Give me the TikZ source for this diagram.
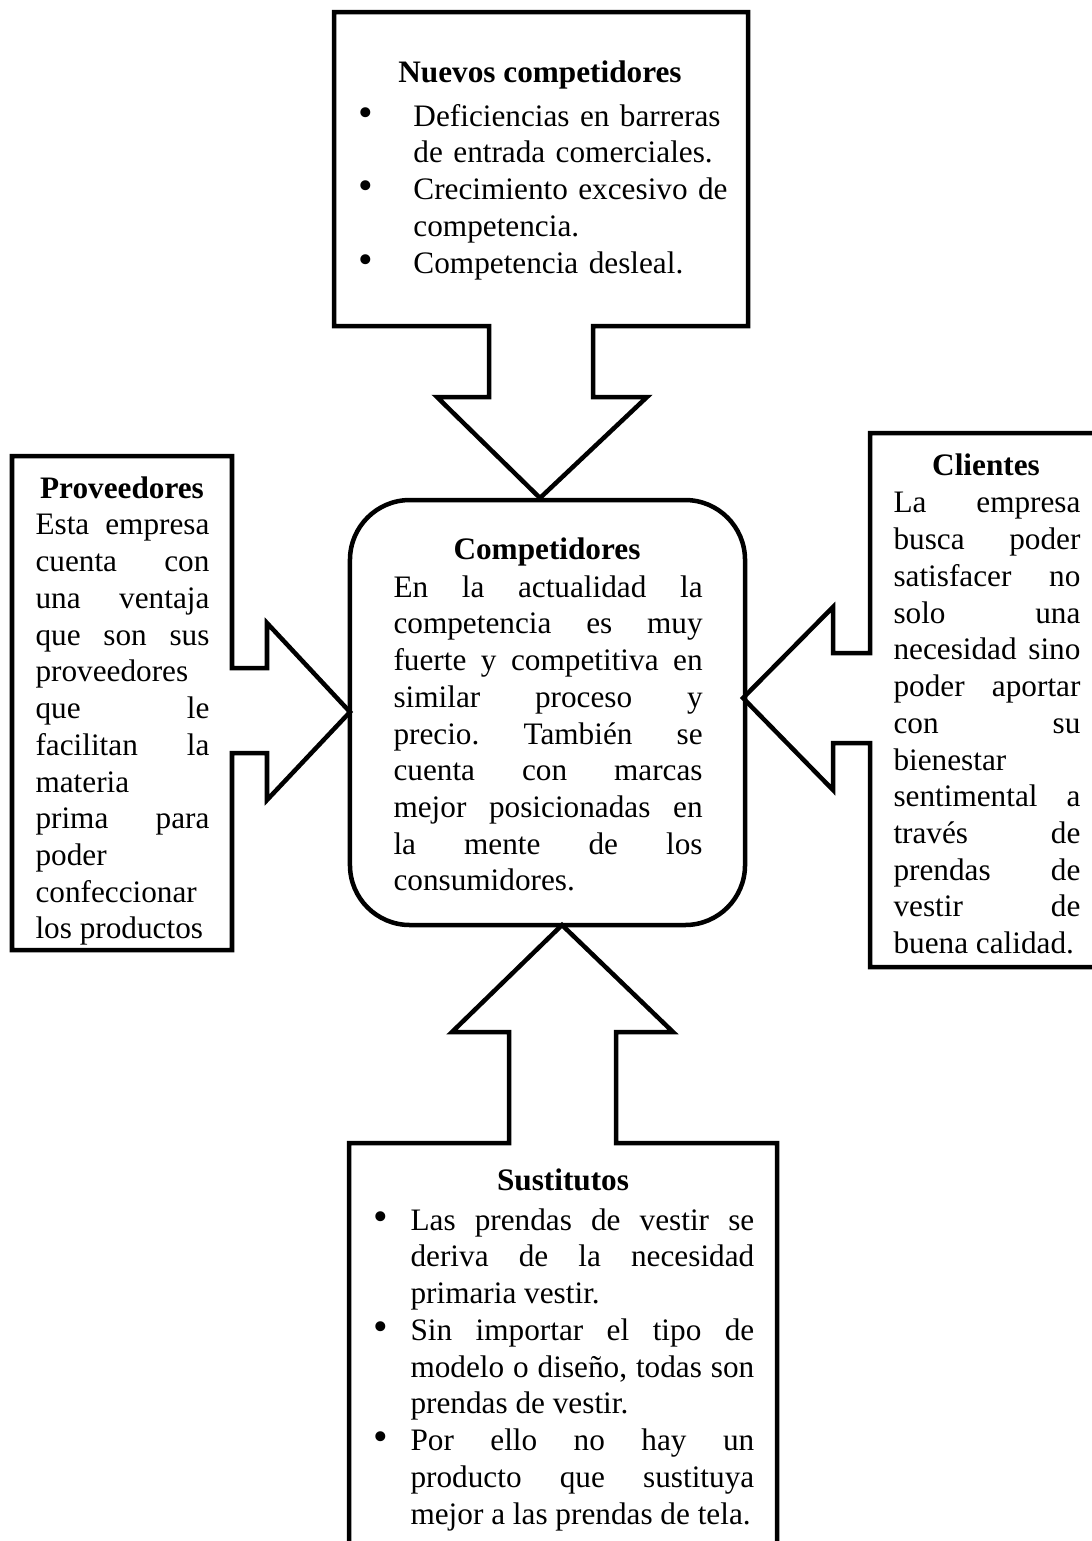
\documentclass[tikz,border=0pt]{standalone}
\usepackage{fontspec}
\setmainfont{Liberation Serif}
\usepackage{enumitem}
\usepackage{tikz}

\newcommand{\diagfont}{\fontsize{12}{14.1}\selectfont\frenchspacing}
\newcommand{\bigbullet}{{\fontsize{16}{16}\selectfont\textbullet}}
\setlist[itemize]{label=\bigbullet, itemsep=0pt, topsep=0pt, parsep=0pt, partopsep=0pt}

\begin{document}
\begin{tikzpicture}[x=0.384pt, y=-0.384pt,
    every node/.style={font=\diagfont},
    outline/.style={line width=1.73pt, line join=miter},
    boxtitle/.style={font=\diagfont\bfseries, inner sep=0pt},
    boxtext/.style={anchor=north west, inner sep=0pt, align=justify}]

    \useasboundingbox (0,0) rectangle (1092,1541);

    % callout shapes
    \draw[outline] (334,12) -- (748,12) -- (748,326) -- (593,326) -- (593,397) -- (647,397)
        -- (540,498) -- (437,397) -- (489,397) -- (489,326) -- (334,326) -- cycle;
    \draw[outline] (12,456) -- (232,456) -- (232,668) -- (267,668) -- (267,623) -- (350,712)
        -- (267,800) -- (267,753) -- (232,753) -- (232,950) -- (12,950) -- cycle;
    \draw[outline] (870,433) -- (1110,433) -- (1110,967) -- (870,967) -- (870,743) -- (833,743)
        -- (833,790) -- (743,698) -- (833,607) -- (833,653) -- (870,653) -- cycle;
    \draw[outline] (349,1560) -- (349,1143) -- (509,1143) -- (509,1032) -- (452,1032) -- (562,925)
        -- (673,1032) -- (616,1032) -- (616,1143) -- (777,1143) -- (777,1560);

    \node[outline, draw, rounded corners=23pt, minimum width=151.7pt, minimum height=163.2pt]
        (comp) at (547.5,712.5) {};

    % Nuevos competidores
    \node[boxtitle] (nuevos-title) at (540,75) {Nuevos competidores};
    \node[boxtext, align=left, text width=142pt] (nuevos-text) at (358,89) {%
        \begin{itemize}[leftmargin=21.1pt, labelsep=15.5pt]
        \item Deficiencias en barreras\newline de entrada comerciales.
        \item Crecimiento excesivo de\newline competencia.
        \item Competencia desleal.
        \end{itemize}};

    % Competidores
    \node[boxtitle] (comp-title) at (547,552) {Competidores};
    \node[boxtext, text width=118.7pt] (comp-text) at (393,575) {%
        En la actualidad la\linebreak competencia es muy\linebreak
        fuerte y competitiva en\linebreak similar proceso y\linebreak
        precio. También se\linebreak cuenta con marcas\linebreak
        mejor posicionadas en\linebreak la mente de los\linebreak consumidores.};

    % Proveedores
    \node[boxtitle] (prov-title) at (122,488) {Proveedores};
    \node[boxtext, text width=66.8pt] (prov-text) at (35,514) {%
        Esta empresa\linebreak cuenta con\linebreak una ventaja\linebreak
        que son sus\linebreak proveedores\linebreak que le\linebreak
        facilitan la\linebreak materia\linebreak prima para\linebreak
        poder\linebreak confeccionar\linebreak los productos};

    % Clientes
    \node[boxtitle] (cli-title) at (986,465) {Clientes};
    \node[boxtext, text width=71.8pt] (cli-text) at (893,492) {%
        La empresa\linebreak busca poder\linebreak satisfacer no\linebreak
        solo una\linebreak necesidad sino\linebreak poder aportar\linebreak
        con su\linebreak bienestar\linebreak sentimental a\linebreak
        través de\linebreak prendas de\linebreak vestir de\linebreak buena calidad.};

    % Sustitutos
    \node[boxtitle] (sust-title) at (563,1180) {Sustitutos};
    \node[boxtext, text width=146.6pt] (sust-text) at (372,1193) {%
        \begin{itemize}[leftmargin=14.6pt, labelsep=8.6pt]
        \item Las prendas de vestir se\linebreak deriva de la necesidad\linebreak primaria vestir.
        \item Sin importar el tipo de\linebreak modelo o diseño, todas son\linebreak prendas de vestir.
        \item Por ello no hay un\linebreak producto que sustituya\linebreak mejor a las prendas de tela.
        \end{itemize}};

\end{tikzpicture}
\end{document}
